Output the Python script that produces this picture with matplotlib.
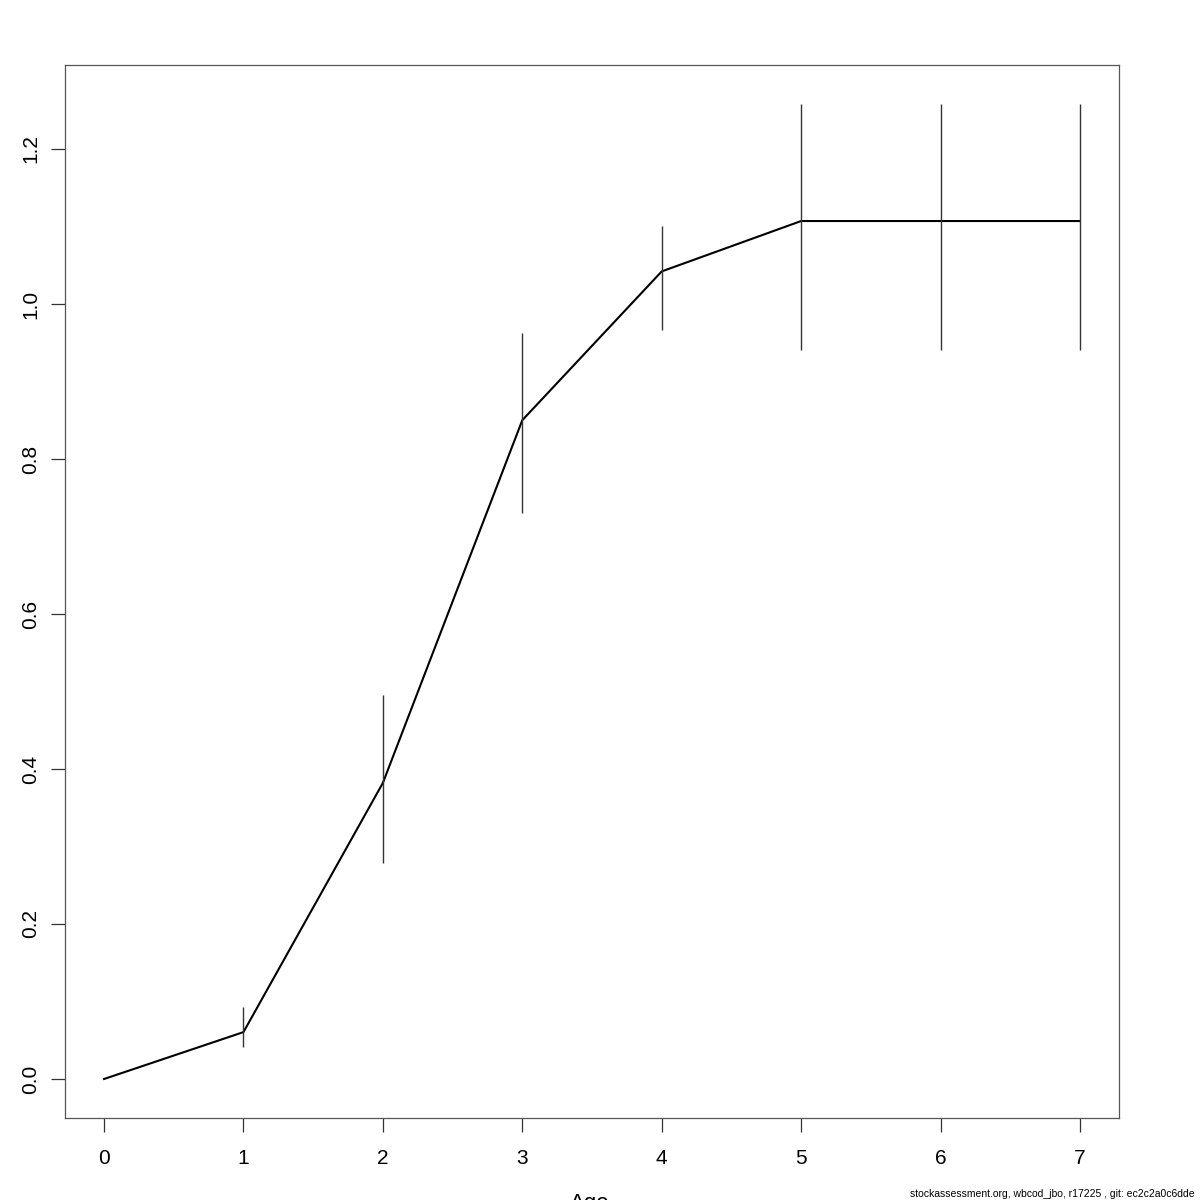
import matplotlib
matplotlib.use("Agg")
import matplotlib.pyplot as plt

# selectivity by age with confidence bounds
ages = [0, 1, 2, 3, 4, 5, 6, 7]
est = [0.0, 0.0605, 0.382, 0.850, 1.042, 1.107, 1.107, 1.107]
ci_ages = [1, 2, 3, 4, 5, 6, 7]
ci_low = [0.041, 0.279, 0.730, 0.966, 0.940, 0.940, 0.940]
ci_high = [0.093, 0.496, 0.962, 1.100, 1.258, 1.258, 1.258]

plt.rcParams["font.family"] = ["Liberation Sans", "DejaVu Sans"]

fig = plt.figure(figsize=(12, 12), dpi=100)
ax = fig.add_axes([65 / 1200, 1 - 1118 / 1200, (1119 - 65) / 1200, (1118 - 65) / 1200])

ax.plot(ages, est, color="black", lw=1.5)
ax.vlines(ci_ages, ci_low, ci_high, color="#333333", lw=1.0)

ax.set_xlim(-0.28, 7.28)
ylo, yhi = 0.0, max(ci_high)
pad = 0.04 * (yhi - ylo)
ax.set_ylim(ylo - pad, yhi + pad)

ax.set_xticks(ages)
ax.set_yticks([0.0, 0.2, 0.4, 0.6, 0.8, 1.0, 1.2])
ax.set_yticklabels(["0.0", "0.2", "0.4", "0.6", "0.8", "1.0", "1.2"], rotation=90, va="center")
ax.tick_params(direction="out", length=10, width=0.9, labelsize=15, pad=8, color="#333333")
ax.tick_params(axis="x", pad=12)
for s in ax.spines.values():
    s.set_color("#555555")
    s.set_linewidth(0.9)

# axis label sits at the bottom edge, partly clipped as in the original output
fig.text(590 / 1200, 1 - 1193 / 1200, "Age", ha="center", va="top", fontsize=16)
fig.text(1195 / 1200, 1 - 1194 / 1200, "stockassessment.org, wbcod_jbo, r17225 , git: ec2c2a0c6dde",
         ha="right", va="center", fontsize=7.5)

fig.savefig("out.png", dpi=100)
